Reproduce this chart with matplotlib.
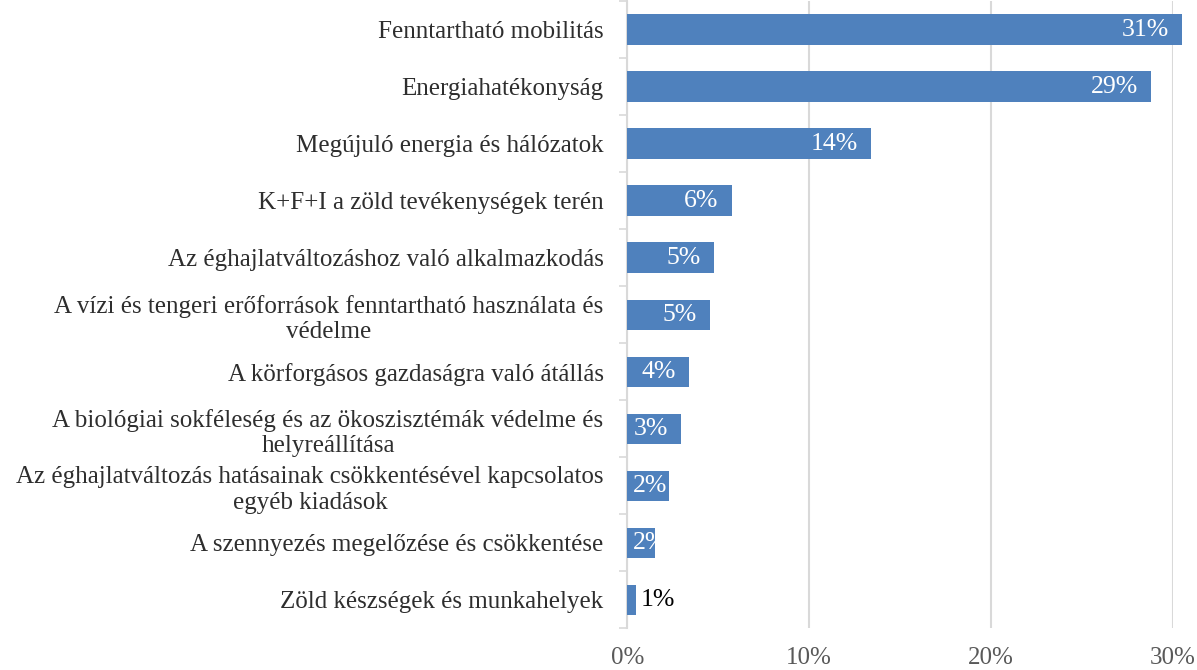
import matplotlib
matplotlib.use("Agg")
import matplotlib.pyplot as plt
import numpy as np

categories = [
    "Fenntartható mobilitás",
    "Energiahatékonyság",
    "Megújuló energia és hálózatok",
    "K+F+I a zöld tevékenységek terén",
    "Az éghajlatváltozáshoz való alkalmazkodás",
    "A vízi és tengeri erőforrások fenntartható használata és\nvédelme",
    "A körforgásos gazdaságra való átállás",
    "A biológiai sokféleség és az ökoszisztémák védelme és\nhelyreállítása",
    "Az éghajlatváltozás hatásainak csökkentésével kapcsolatos\negyéb kiadások",
    "A szennyezés megelőzése és csökkentése",
    "Zöld készségek és munkahelyek",
]
# bar lengths (%)
shares = [30.5, 28.8, 13.4, 5.75, 4.75, 4.55, 3.4, 2.95, 2.3, 1.55, 0.5]
value_labels = ["31%", "29%", "14%", "6%", "5%", "5%", "4%", "3%", "2%", "2%", "1%"]
x_ticks = [0, 10, 20, 30]
x_tick_labels = ["0%", "10%", "20%", "30%"]

bar_color = "#4f81bd"
serif = ["Liberation Serif", "DejaVu Serif"]

fig = plt.figure(figsize=(11.97, 6.70), dpi=100)
ax = fig.add_axes([0.524, 0.062, 0.456, 0.936])

y = np.arange(len(categories))
ax.barh(y, shares, height=0.54, color=bar_color, clip_on=False, zorder=3)

ax.set_xlim(0, 30)
ax.set_ylim(len(categories) - 0.5, -0.5)

ax.set_xticks(x_ticks)
ax.set_xticklabels(x_tick_labels, family=serif, fontsize=18, color="#595959")
ax.tick_params(axis="x", length=0, pad=13)
ax.grid(axis="x", color="#d9d9d9", linewidth=1.5, zorder=0)

ax.set_yticks(y)
ax.set_yticklabels(categories, family=serif, fontsize=18, color="#2e2e2e",
                   linespacing=1.2, multialignment="center")
ax.set_yticks(np.arange(len(categories) + 1) - 0.5, minor=True)
ax.tick_params(axis="y", which="major", length=0, pad=17)
ax.tick_params(axis="y", which="minor", length=6, width=1.2, color="#d9d9d9")

for side in ["top", "right", "bottom"]:
    ax.spines[side].set_visible(False)
ax.spines["left"].set_color("#d9d9d9")
ax.spines["left"].set_linewidth(1.5)

# data labels: inside end, white; very short bars get the label outside
for i, (v, lab) in enumerate(zip(shares, value_labels)):
    if v < 1:
        ax.text(v + 0.25, i, lab, ha="left", va="center", family=serif,
                fontsize=18.5, color="black", zorder=4)
    else:
        x_pos = max(v - 0.72, 2.2)
        ax.text(x_pos, i, lab, ha="right", va="center", family=serif,
                fontsize=18.5, color="white", zorder=4)

fig.savefig("out.png", dpi=100)
